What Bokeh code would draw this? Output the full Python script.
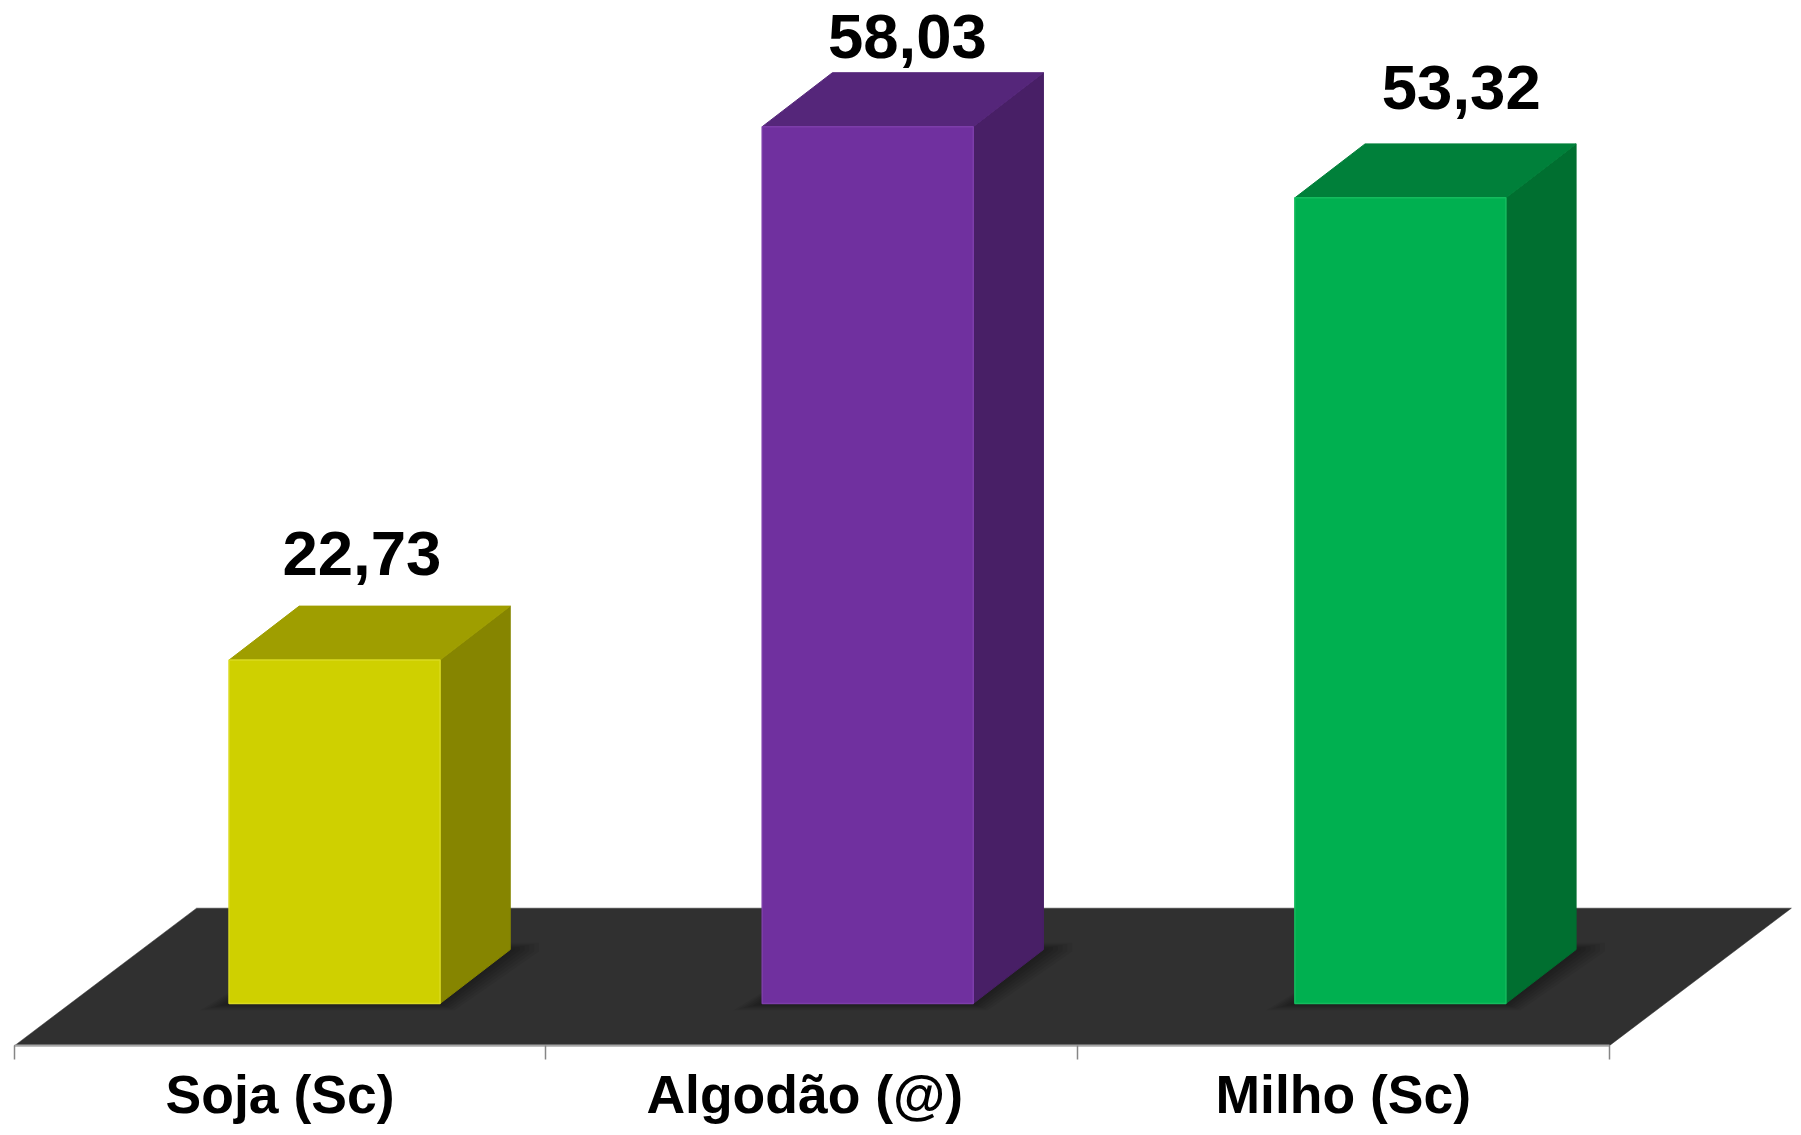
from bokeh.embed import file_html
from bokeh.resources import INLINE
from bokeh.plotting import figure
from bokeh.models import FixedTicker, Range1d, ColumnDataSource
from bokeh.core.properties import value

categories = ["Soja (Sc)", "Algodão (@)", "Milho (Sc)"]
values = [22.73, 58.03, 53.32]
value_labels = ["22,73", "58,03", "53,32"]
front_colors = ["#CFD000", "#70309F", "#00B050"]
top_colors = ["#9F9E00", "#55267A", "#00803A"]
side_colors = ["#868500", "#481F66", "#006F30"]
edge_colors = ["#DADA20", "#7D3DAA", "#14BC5E"]

# layout, in axis units
BAR_X = [0.404, 1.407, 2.409]
BAR_W = 0.397
DX, DY = 0.132, 3.57
FLOOR_DX, FLOOR_FRONT, FLOOR_BACK = 0.343, -2.806, 6.31
LABEL_X = [0.654, 1.680, 2.722]
LABEL_DY = [7.05, 6.0, 7.3]
CAT_X = [0.5, 1.487, 2.5]
CAT_Y = -6.0

p = figure(width=1793, height=1127, output_backend="svg", toolbar_location=None,
           x_range=Range1d(-0.0259, 3.347), y_range=Range1d(-8.206, 66.38),
           min_border=0, outline_line_color=None,
           background_fill_color="white", border_fill_color="white")
p.yaxis.visible = False
p.grid.visible = False

# floor
p.patch([0, 3, 3 + FLOOR_DX, FLOOR_DX], [FLOOR_FRONT, FLOOR_FRONT, FLOOR_BACK, FLOOR_BACK],
        fill_color="#303030", line_color="#303030", line_width=0.5)

# base shadows
for i in range(3):
    x0 = BAR_X[i]
    x1 = x0 + BAR_W
    for k in range(1, 7):
        d = k * 0.009
        e = k * 0.075
        p.patch([x0 - d, x1 + d * 0.5, x1 + DX + d, x1 + DX + d, x1 + DX - 0.05, x0 + DX],
                [-e, -e, DY - e * 0.3, DY + e, DY + e, DY],
                fill_color="black", fill_alpha=0.06, line_color=None)

# bars
for i, v in enumerate(values):
    x0 = BAR_X[i]
    x1 = x0 + BAR_W
    p.patch([x1, x1 + DX, x1 + DX, x1], [0, DY, v + DY, v],
            fill_color=side_colors[i], line_color=side_colors[i], line_width=1)
    p.patch([x0, x1, x1 + DX, x0 + DX], [v, v, v + DY, v + DY],
            fill_color=top_colors[i], line_color=top_colors[i], line_width=1)
    p.patch([x0, x1, x1, x0], [0, 0, v, v],
            fill_color=front_colors[i], line_color=edge_colors[i], line_width=1.5)

src = ColumnDataSource(dict(x=LABEL_X, y=[v + d for v, d in zip(values, LABEL_DY)], t=value_labels))
p.text("x", "y", text="t", source=src, text_align="center", text_baseline="alphabetic",
       text_font=value("Liberation Sans"), text_font_style="bold",
       text_font_size="63.5px", text_color="black")

ax = p.xaxis[0]
ax.fixed_location = FLOOR_FRONT
ax.bounds = (0, 3)
ax.ticker = FixedTicker(ticks=[0, 1, 2, 3])
ax.major_label_overrides = {0: "", 1: "", 2: "", 3: ""}
ax.axis_line_color = "#A6A6A6"
ax.axis_line_width = 2
ax.major_tick_line_color = "#868686"
ax.major_tick_line_width = 1.5
ax.major_tick_in = 0
ax.major_tick_out = 14
ax.minor_tick_line_color = None
ax.major_label_standoff = 0

cat_src = ColumnDataSource(dict(x=CAT_X, y=[CAT_Y] * len(categories), t=categories))
p.text("x", "y", text="t", source=cat_src, text_align="center", text_baseline="middle",
       text_font=value("Liberation Sans"), text_font_style="bold",
       text_font_size="53.5px", text_color="black")

open("out.html", "w").write(file_html(p, INLINE))
